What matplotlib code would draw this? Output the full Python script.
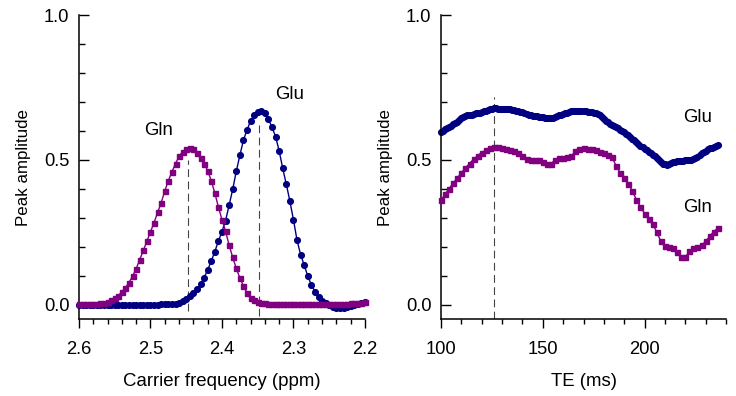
import numpy as np
import matplotlib
matplotlib.use("Agg")
import matplotlib.pyplot as plt
from matplotlib.ticker import MultipleLocator, FormatStrFormatter

plt.rcParams['font.family'] = ['Liberation Sans', 'DejaVu Sans']

# Left panel: peak amplitude vs carrier frequency, 2.600 -> 2.200 ppm in 0.005 steps
ppm = np.round(np.arange(2.600, 2.1999, -0.005), 3)

gln_ppm = [0.002, 0.002, 0.002, 0.002, 0.003, 0.003, 0.004, 0.006, 0.009, 0.014,   # 2.600-2.555
           0.021, 0.031, 0.043, 0.058, 0.076, 0.098, 0.124, 0.155, 0.187, 0.219,   # 2.550-2.505
           0.251, 0.283, 0.318, 0.352, 0.392, 0.428, 0.458, 0.487, 0.512, 0.528,   # 2.500-2.455
           0.537, 0.540, 0.537, 0.524, 0.507, 0.487, 0.462, 0.428, 0.385, 0.337,   # 2.450-2.405
           0.293, 0.253, 0.205, 0.163, 0.125, 0.092, 0.064, 0.040, 0.024, 0.014,   # 2.400-2.355
           0.009, 0.006, 0.004, 0.003, 0.003, 0.003, 0.003, 0.003, 0.003, 0.003,   # 2.350-2.305
           0.003, 0.003, 0.003, 0.003, 0.003, 0.003, 0.003, 0.003, 0.003, 0.003,   # 2.300-2.255
           0.003, 0.003, 0.003, 0.003, 0.003, 0.003, 0.004, 0.005, 0.006, 0.007,   # 2.250-2.205
           0.009]                                                                  # 2.200

glu_ppm = [0.000, 0.000, 0.000, 0.000, 0.000, 0.000, 0.000, 0.000, 0.000, 0.000,   # 2.600-2.555
           0.000, 0.000, 0.000, 0.000, 0.000, 0.000, 0.000, 0.000, 0.000, 0.000,   # 2.550-2.505
           0.000, 0.000, 0.000, 0.001, 0.001, 0.001, 0.001, 0.002, 0.005, 0.011,   # 2.500-2.455
           0.019, 0.028, 0.039, 0.052, 0.070, 0.093, 0.120, 0.150, 0.183, 0.219,   # 2.450-2.405
           0.252, 0.290, 0.343, 0.398, 0.460, 0.515, 0.568, 0.603, 0.634, 0.655,   # 2.400-2.355
           0.665, 0.667, 0.661, 0.640, 0.612, 0.580, 0.530, 0.470, 0.415, 0.357,   # 2.350-2.305
           0.292, 0.222, 0.172, 0.136, 0.098, 0.068, 0.045, 0.027, 0.013, 0.004,   # 2.300-2.255
           -0.003, -0.008, -0.011, -0.013, -0.013, -0.010, -0.006, -0.002, 0.003, 0.007,  # 2.250-2.205
           0.010]                                                                  # 2.200

# Right panel: peak amplitude vs echo time
te_gln = np.arange(100, 237, 2)
gln_te = [0.360, 0.381, 0.400, 0.420, 0.437, 0.455, 0.472, 0.487, 0.502, 0.514,   # 100-118
          0.525, 0.533, 0.540, 0.545, 0.544, 0.540, 0.536, 0.534, 0.531, 0.524,   # 120-138
          0.512, 0.501, 0.498, 0.500, 0.499, 0.491, 0.484, 0.486, 0.499, 0.506,   # 140-158
          0.506, 0.508, 0.513, 0.529, 0.536, 0.539, 0.538, 0.536, 0.533, 0.528,   # 160-178
          0.523, 0.518, 0.508, 0.480, 0.455, 0.438, 0.418, 0.392, 0.362, 0.338,   # 180-198
          0.314, 0.297, 0.278, 0.250, 0.218, 0.201, 0.199, 0.196, 0.181, 0.164,   # 200-218
          0.163, 0.185, 0.194, 0.200, 0.205, 0.218, 0.236, 0.252, 0.264]          # 220-236

te_glu = np.arange(100, 237, 1)
glu_te = [0.596, 0.601, 0.606, 0.609, 0.613, 0.617, 0.622, 0.626, 0.631, 0.637,   # 100-109
          0.643, 0.648, 0.651, 0.653, 0.655, 0.656, 0.658, 0.660, 0.661, 0.663,   # 110-119
          0.665, 0.667, 0.669, 0.672, 0.675, 0.677, 0.678, 0.678, 0.677, 0.677,   # 120-129
          0.677, 0.676, 0.676, 0.675, 0.674, 0.673, 0.671, 0.670, 0.668, 0.666,   # 130-139
          0.664, 0.662, 0.659, 0.656, 0.654, 0.652, 0.651, 0.650, 0.649, 0.648,   # 140-149
          0.647, 0.646, 0.645, 0.644, 0.644, 0.645, 0.647, 0.650, 0.653, 0.656,   # 150-159
          0.659, 0.661, 0.663, 0.665, 0.667, 0.668, 0.669, 0.670, 0.670, 0.669,   # 160-169
          0.668, 0.667, 0.666, 0.665, 0.664, 0.662, 0.660, 0.657, 0.653, 0.647,   # 170-179
          0.640, 0.634, 0.629, 0.625, 0.621, 0.617, 0.613, 0.609, 0.604, 0.600,   # 180-189
          0.595, 0.590, 0.584, 0.579, 0.573, 0.567, 0.561, 0.555, 0.549, 0.543,   # 190-199
          0.538, 0.533, 0.528, 0.523, 0.518, 0.512, 0.506, 0.499, 0.492, 0.487,   # 200-209
          0.484, 0.483, 0.486, 0.489, 0.491, 0.493, 0.495, 0.496, 0.497, 0.497,   # 210-219
          0.498, 0.498, 0.499, 0.500, 0.502, 0.506, 0.511, 0.517, 0.523, 0.528,   # 220-229
          0.532, 0.536, 0.539, 0.542, 0.545, 0.548, 0.552]                        # 230-236

# dashed marker lines at the chosen values: (x, y bottom, y top)
ppm_marks = [(2.4475, -0.023, 0.50), (2.348, -0.04, 0.627)]
te_mark = (126, -0.05, 0.716)

glu_color = "#000080"
gln_color = "#800080"
dash_color = "#444444"

fig = plt.figure(figsize=(7.36, 3.96), dpi=100)
ax1 = fig.add_axes([0.1073, 0.1944, 0.3886, 0.7677])
ax2 = fig.add_axes([0.5992, 0.1944, 0.3872, 0.7677])

# left panel
for x, y0, y1 in ppm_marks:
    ax1.plot([x, x], [y0, y1], color=dash_color, lw=0.8, dashes=(7, 4), zorder=1)
ax1.plot(ppm, gln_ppm, color=gln_color, lw=1.0, marker="s", ms=3.6, mec=gln_color,
         clip_on=False, zorder=3)
ax1.plot(ppm, glu_ppm, color=glu_color, lw=1.0, marker="o", ms=4.1, mec=glu_color,
         clip_on=False, zorder=2)
ax1.set_xlim(2.6, 2.2)
ax1.xaxis.set_major_locator(MultipleLocator(0.1))
ax1.xaxis.set_minor_locator(MultipleLocator(0.02))
ax1.xaxis.set_major_formatter(FormatStrFormatter("%.1f"))
ax1.set_xlabel("Carrier frequency (ppm)", fontsize=13.4, labelpad=11)
ax1.text(2.489, 0.586, "Gln", fontsize=13.4, ha="center", va="baseline")
ax1.text(2.3056, 0.711, "Glu", fontsize=13.4, ha="center", va="baseline")

# right panel
x, y0, y1 = te_mark
ax2.plot([x, x], [y0, y1], color=dash_color, lw=0.8, dashes=(7, 4), zorder=1)
ax2.plot(te_gln, gln_te, color=gln_color, lw=1.0, marker="s", ms=3.6, mec=gln_color,
         clip_on=False, zorder=3)
ax2.plot(te_glu, glu_te, color=glu_color, lw=1.0, marker="o", ms=4.1, mec=glu_color,
         clip_on=False, zorder=2)
ax2.set_xlim(100, 240)
ax2.xaxis.set_major_locator(MultipleLocator(50))
ax2.xaxis.set_minor_locator(MultipleLocator(10))
ax2.set_xlabel("TE (ms)", fontsize=13.4, labelpad=11)
ax2.text(226.2, 0.632, "Glu", fontsize=13.4, ha="center", va="baseline")
ax2.text(226.0, 0.321, "Gln", fontsize=13.4, ha="center", va="baseline")

for ax in (ax1, ax2):
    ax.set_ylim(-0.05, 1.0)
    ax.yaxis.set_major_locator(MultipleLocator(0.5))
    ax.yaxis.set_minor_locator(MultipleLocator(0.1))
    ax.yaxis.set_major_formatter(FormatStrFormatter("%.1f"))
    ax.set_ylabel("Peak amplitude", fontsize=12.2, labelpad=9)
    ax.spines["top"].set_visible(False)
    ax.spines["right"].set_visible(False)
    ax.spines["left"].set_linewidth(1.1)
    ax.spines["bottom"].set_linewidth(1.1)
    ax.tick_params(axis="x", which="major", direction="out", length=6.5, width=1.0,
                   pad=9, labelsize=13.2)
    ax.tick_params(axis="x", which="minor", direction="out", length=3.6, width=1.0)
    ax.tick_params(axis="y", which="major", direction="in", length=7.2, width=1.0,
                   pad=7, labelsize=13.2)
    ax.tick_params(axis="y", which="minor", direction="in", length=4.3, width=1.0)

fig.savefig("out.png", dpi=100)
